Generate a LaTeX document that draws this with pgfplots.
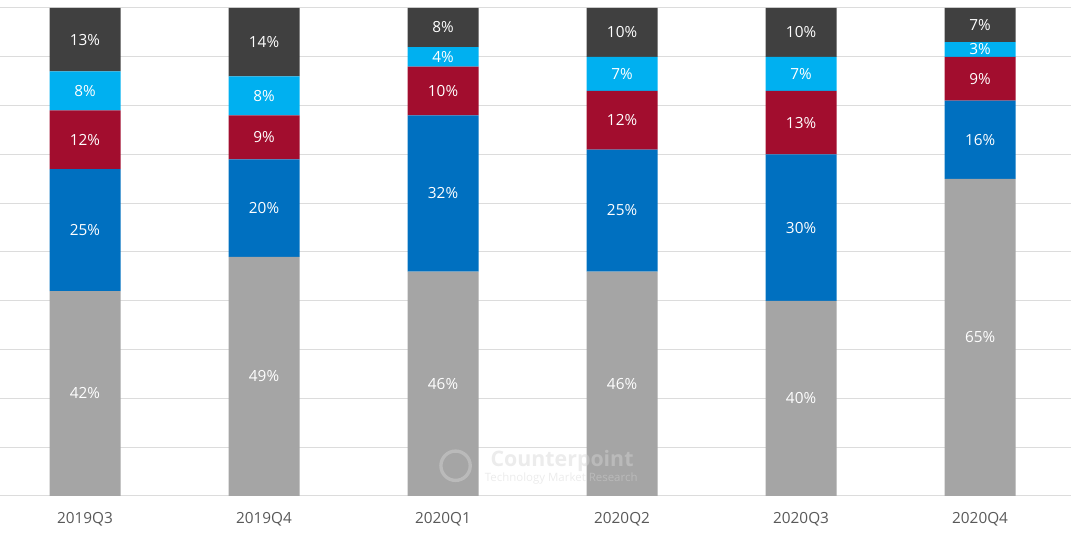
\documentclass[border=0pt]{standalone}
\usepackage{fontspec}
\setmainfont{Open Sans}
\usepackage{pgfplots}
\usepackage{pgfplotstable}
\pgfplotsset{compat=1.18}
\definecolor{cgray}{HTML}{A5A5A5}
\definecolor{cblue}{HTML}{0070C0}
\definecolor{cred}{HTML}{A20D2E}
\definecolor{ccyan}{HTML}{00B0F0}
\definecolor{cdark}{HTML}{404040}
\definecolor{gridc}{HTML}{DCDCDC}
\definecolor{tickc}{HTML}{595959}
\definecolor{wmark}{HTML}{D4D4D4}

% label positions: middle of each segment
\pgfplotstableread{
x y m
0 21   42
0 54.5 25
0 73   12
0 83   8
0 93.5 13
1 24.5 49
1 59   20
1 73.5 9
1 82   8
1 93   14
2 23   46
2 62   32
2 83   10
2 90   4
2 96   8
3 23   46
3 58.5 25
3 77   12
3 86.5 7
3 95   10
4 20   40
4 55   30
4 76.5 13
4 86.5 7
4 95   10
5 32.5 65
5 73   16
5 85.5 9
5 91.5 3
5 96.5 7
}\labels

\begin{document}
\begin{tikzpicture}
\pgfplotsset{base/.style={
    scale only axis, width=803.25pt, height=366pt,
    xmin=-0.475, xmax=5.508, ymin=0, ymax=100,
    axis line style={draw=none}, major tick length=0pt,
    xtick={0,...,5}, ytick={0,10,...,100}, yticklabels={},
}}
\begin{axis}[base, name=ax,
    ybar stacked, bar width=53.25pt,
    ymajorgrids, grid style={color=gridc, line width=0.75pt},
    xticklabels={2019Q3,2019Q4,2020Q1,2020Q2,2020Q3,2020Q4},
    xticklabel style={font=\fontsize{11.5}{13}\selectfont, text=tickc, yshift=-9pt},
]
\addplot[fill=cgray, draw=none] coordinates {(0,42) (1,49) (2,46) (3,46) (4,40) (5,65)};
\addplot[fill=cblue, draw=none] coordinates {(0,25) (1,20) (2,32) (3,25) (4,30) (5,16)};
\addplot[fill=cred, draw=none] coordinates {(0,12) (1,9) (2,10) (3,12) (4,13) (5,9)};
\addplot[fill=ccyan, draw=none] coordinates {(0,8) (1,8) (2,4) (3,7) (4,7) (5,3)};
\addplot[fill=cdark, draw=none] coordinates {(0,13) (1,14) (2,8) (3,10) (4,10) (5,7)};
\end{axis}
\begin{axis}[base, xticklabels={}]
\node[text=wmark, opacity=0.45, font=\bfseries\fontsize{16}{17}\selectfont] at (axis cs:2.665,7.1) {Counterpoint};
\node[text=wmark, opacity=0.45, font=\fontsize{8.6}{9}\selectfont] at (axis cs:2.66,3.6) {Technology Market Research};
\draw[wmark, opacity=0.45, line width=2.5pt] (axis cs:2.07,6.2) circle[radius=11pt];
\addplot[only marks, mark=*, mark size=0pt, mark options={draw=none, fill=none},
    point meta=explicit,
    nodes near coords={\pgfmathprintnumber[fixed,precision=0,assume math mode=true]{\pgfplotspointmeta}\%},
    every node near coord/.style={anchor=center, text=white, font=\fontsize{11.5}{13}\selectfont},
] table[x=x, y=y, meta=m] {\labels};
\end{axis}
\pgfresetboundingbox
\path ([yshift=-29.25pt]ax.south west) rectangle ([yshift=6pt]ax.north east);
\end{tikzpicture}
\end{document}
